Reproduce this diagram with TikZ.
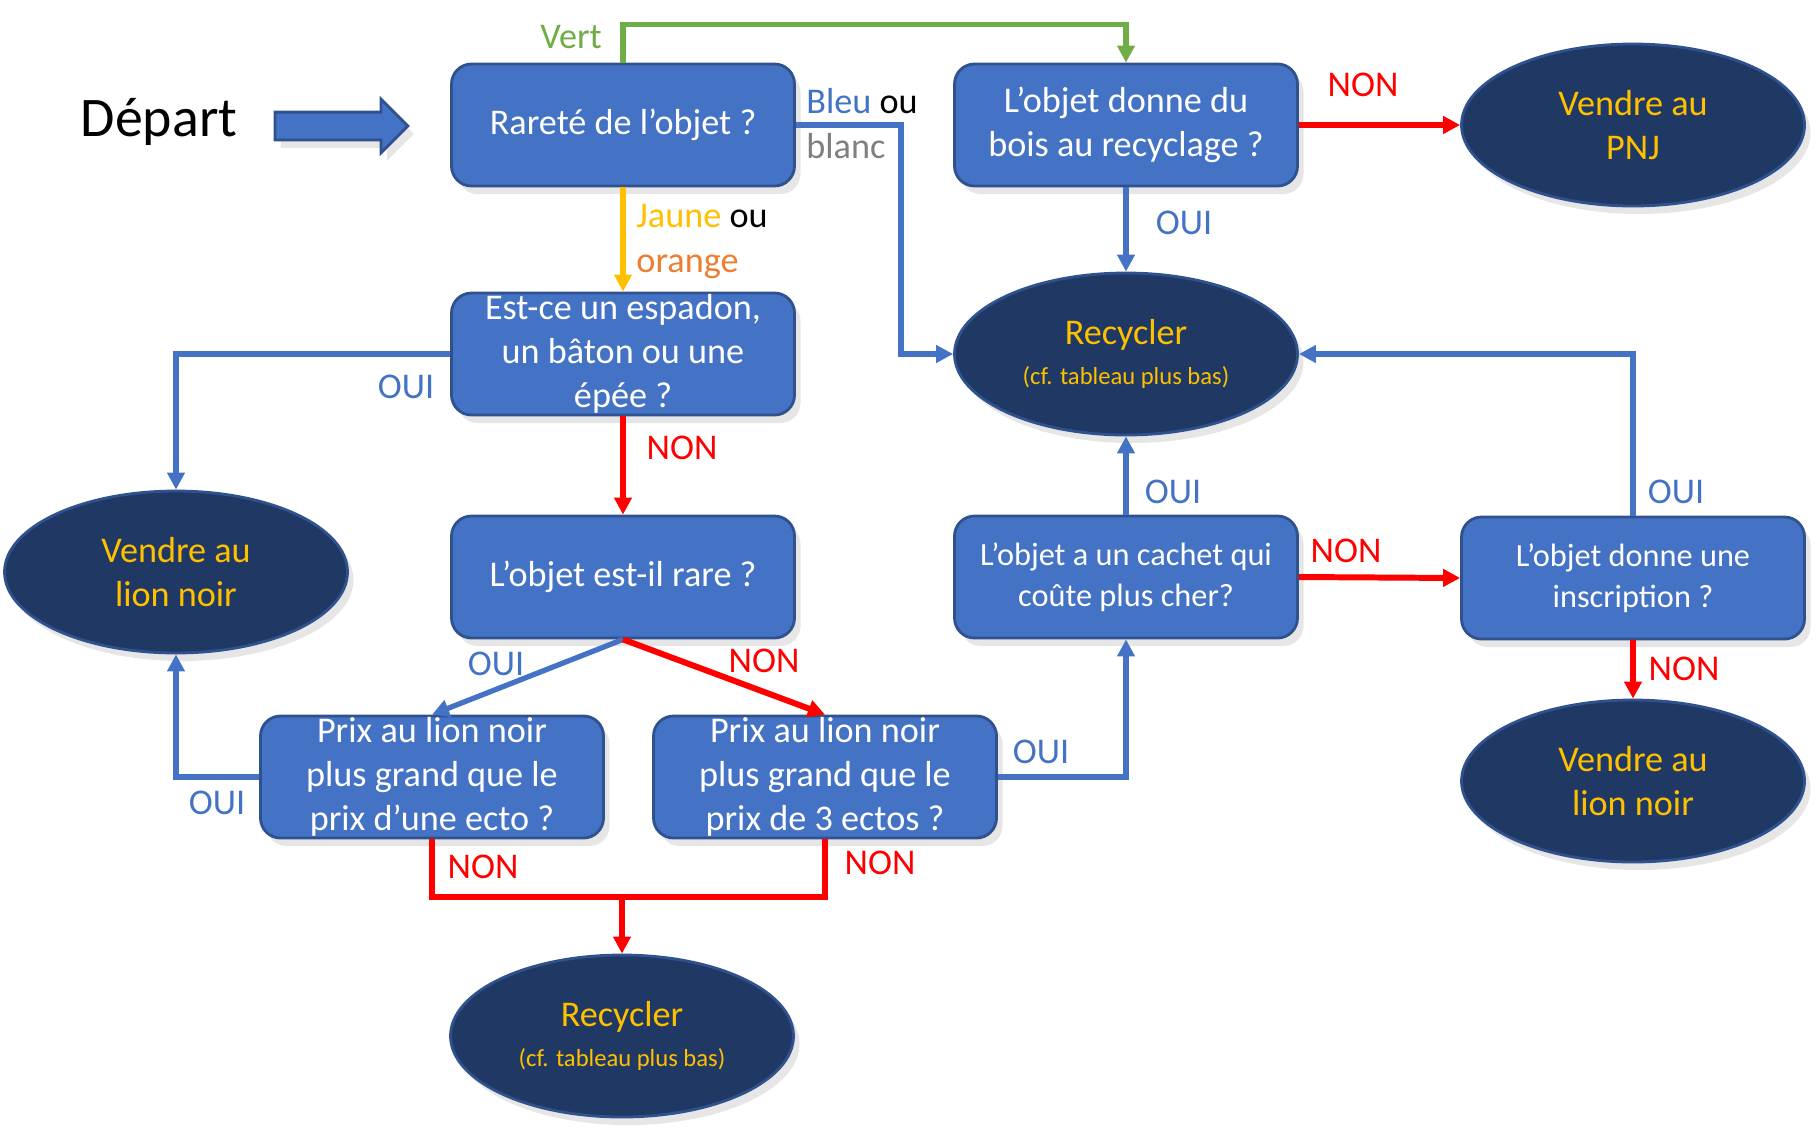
\documentclass[tikz,border=0pt]{standalone}
\usepackage{fontspec}
\setmainfont{Carlito}
\usepackage{xcolor}
\usetikzlibrary{arrows.meta,positioning,calc,shapes.geometric,shapes.arrows,shadows}
\definecolor{boxblue}{HTML}{4472C4}
\definecolor{boxline}{HTML}{2F528F}
\definecolor{navy}{HTML}{203864}
\definecolor{gold}{HTML}{FFC000}
\definecolor{vertppt}{HTML}{70AD47}
\definecolor{orangeppt}{HTML}{ED7D31}
\definecolor{gris}{HTML}{7F7F7F}
\definecolor{rouge}{HTML}{FF0000}

\begin{document}
\begin{tikzpicture}[
  font=\fontsize{10.3}{12.6}\selectfont,
  >={Triangle[length=1.7mm, width=1.7mm]},
  ombre/.style={drop shadow={shadow xshift=0.6mm, shadow yshift=-0.8mm, opacity=0.2}},
  question/.style={draw=boxline, fill=boxblue, rounded corners=2mm, align=center, text=white, minimum width=3.43cm, minimum height=1.22cm, inner sep=0pt, line width=0.8pt, ombre},
  petite/.style={question, font=\fontsize{9.2}{11.6}\selectfont},
  issue/.style={ellipse, draw=boxline, fill=navy, text=gold, align=center, minimum width=3.43cm, minimum height=1.62cm, inner sep=0pt, line width=0.8pt, ombre},
  oui/.style={text=boxblue},
  non/.style={text=rouge},
  lienbleu/.style={->, draw=boxblue, line width=1.5pt},
  lienrouge/.style={->, draw=rouge, line width=1.7pt},
]
\useasboundingbox (0,0) rectangle (18.19,-11.31);
% start
\node[font=\fontsize{15.9}{18}\selectfont] (depart) at (1.59,-1.22) {Départ};
\node[single arrow, draw=boxline, fill=boxblue, line width=0.8pt, minimum height=1.33cm, inner xsep=0pt, inner ysep=0.125cm, single arrow head extend=0.13cm, ombre] (fleche) at (3.345,-1.26) {};
% questions
\node[question] (rarete) at (6.23,-1.25) {Rareté de l’objet ?};
\node[question] (bois) at (11.26,-1.25) {L’objet donne du\\bois au recyclage ?};
\node[question] (espadon) at (6.23,-3.54) {Est-ce un espadon,\\un bâton ou une\\épée ?};
\node[question] (rare) at (6.23,-5.77) {L’objet est-il rare ?};
\node[question] (prixun) at (4.32,-7.77) {Prix au lion noir\\plus grand que le\\prix d’une ecto ?};
\node[question] (prixtrois) at (8.25,-7.77) {Prix au lion noir\\plus grand que le\\prix de 3 ectos ?};
\node[petite] (cachet) at (11.26,-5.77) {L’objet a un cachet qui\\coûte plus cher?};
\node[petite] (inscr) at (16.33,-5.78) {L’objet donne une\\inscription ?};
% outcomes
\node[issue] (pnj) at (16.33,-1.25) {Vendre au\\PNJ};
\node[issue] (recycA) at (11.26,-3.54) {Recycler\\[-1pt]{\fontsize{7}{8.5}\selectfont(cf. tableau plus bas)}};
\node[issue] (lionG) at (1.76,-5.72) {Vendre au\\lion noir};
\node[issue] (lionD) at (16.33,-7.81) {Vendre au\\lion noir};
\node[issue] (recycB) at (6.22,-10.36) {Recycler\\[-1pt]{\fontsize{7}{8.5}\selectfont(cf. tableau plus bas)}};
\coordinate (jonction) at (6.22,-8.97);
% connectors
\draw[->, draw=vertppt, line width=1.5pt] (rarete.north) -- ++(0,0.38) -| (bois.north);
\draw[lienbleu] (rarete.east) -- ++(1.05,0) |- (recycA.west);
\draw[->, draw=gold, line width=1.5pt] (rarete.south) -- (espadon.north);
\draw[lienrouge] (bois.east) -- (pnj.west);
\draw[lienbleu] (bois.south) -- (recycA.north);
\draw[lienbleu] (espadon.west) -| (lionG.north);
\draw[lienrouge] (espadon.south) -- (rare.north);
\draw[lienbleu] (rare.south) -- (prixun.north);
\draw[lienrouge] (rare.south) -- (prixtrois.north);
\draw[lienbleu] (prixun.west) -| (lionG.south);
\draw[lienbleu] (prixtrois.east) -| (cachet.south);
\draw[draw=rouge, line width=1.7pt] (prixun.south) |- (jonction) -| (prixtrois.south);
\draw[lienrouge] (jonction) -- (recycB.north);
\draw[lienbleu] (cachet.north) -- (recycA.south);
\draw[lienrouge] (cachet.east) -- (inscr.west);
\draw[lienbleu] (inscr.north) |- (recycA.east);
\draw[lienrouge] (inscr.south) -- (lionD.north);
% labels
\node[text=vertppt] (tvert) at (5.71,-0.37) {Vert};
\node[anchor=west] (tbleu) at (7.94,-1.01) {\textcolor{boxblue}{Bleu} ou};
\node[anchor=west, text=gris] (tblanc) at (7.94,-1.46) {blanc};
\node[anchor=west] (tjaune) at (6.24,-2.16) {\textcolor{gold}{Jaune} ou};
\node[anchor=west, text=orangeppt] (torange) at (6.24,-2.67) {orange};
\node[non] (nonA) at (13.63,-0.85) {NON};
\node[oui] (ouiA) at (11.84,-2.23) {OUI};
\node[oui] (ouiB) at (4.06,-3.87) {OUI};
\node[non] (nonB) at (6.82,-4.48) {NON};
\node[oui] (ouiC) at (4.96,-6.64) {OUI};
\node[non] (nonC) at (7.64,-6.61) {NON};
\node[oui] (ouiD) at (2.17,-8.03) {OUI};
\node[oui] (ouiE) at (10.41,-7.52) {OUI};
\node[non] (nonD) at (4.83,-8.67) {NON};
\node[non] (nonE) at (8.80,-8.63) {NON};
\node[oui] (ouiF) at (11.73,-4.92) {OUI};
\node[non] (nonF) at (13.46,-5.51) {NON};
\node[oui] (ouiG) at (16.76,-4.92) {OUI};
\node[non] (nonG) at (16.84,-6.69) {NON};
\end{tikzpicture}
\end{document}
